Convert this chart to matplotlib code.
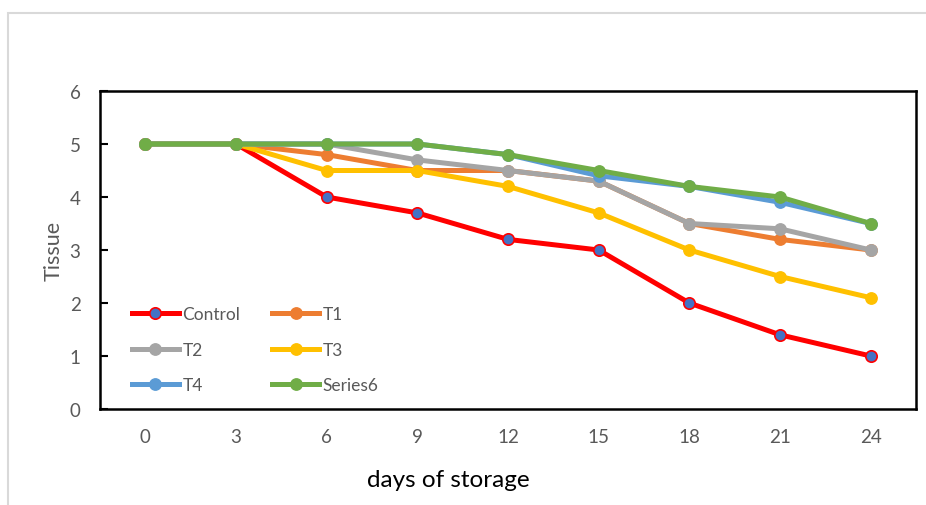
import matplotlib.pyplot as plt
from matplotlib.patches import Rectangle

plt.rcParams['font.family'] = ['Lato', 'DejaVu Sans']

days = [0, 3, 6, 9, 12, 15, 18, 21, 24]
control = [5, 5, 4.0, 3.7, 3.2, 3.0, 2.0, 1.4, 1.0]
t1 = [5, 5, 4.8, 4.5, 4.5, 4.3, 3.5, 3.2, 3.0]
t2 = [5, 5, 5.0, 4.7, 4.5, 4.3, 3.5, 3.4, 3.0]
t3 = [5, 5, 4.5, 4.5, 4.2, 3.7, 3.0, 2.5, 2.1]
t4 = [5, 5, 5.0, 5.0, 4.8, 4.4, 4.2, 3.9, 3.5]
series6 = [5, 5, 5.0, 5.0, 4.8, 4.5, 4.2, 4.0, 3.5]

fig = plt.figure(figsize=(9.26, 5.06), dpi=100)
# light grey chart border like excel
fig.patches.append(Rectangle((8 / 926, -0.01), 1.0, 1 - 14 / 506 + 0.01,
                             transform=fig.transFigure, fill=False,
                             edgecolor='#d9d9d9', linewidth=1.5))

ax = fig.add_axes([100 / 926, 1 - 410 / 506, 816 / 926, 318 / 506])

lw = 3.6
ms = 8.2
h_c, = ax.plot(days, control, color='#ff0000', lw=lw, marker='o', ms=ms,
               markerfacecolor='#4472c4', markeredgecolor='#ff0000', mew=1.2,
               label='Control')
h_1, = ax.plot(days, t1, color='#ed7d31', lw=lw, marker='o', ms=ms, label='T1')
h_2, = ax.plot(days, t2, color='#a5a5a5', lw=lw, marker='o', ms=ms, label='T2')
h_3, = ax.plot(days, t3, color='#ffc000', lw=lw, marker='o', ms=ms, label='T3')
h_4, = ax.plot(days, t4, color='#5b9bd5', lw=lw, marker='o', ms=ms, label='T4')
h_6, = ax.plot(days, series6, color='#70ad47', lw=lw, marker='o', ms=ms,
               label='Series6')

ax.set_xlim(-1.5, 25.5)
ax.set_ylim(0, 6)
ax.set_xticks(days)
ax.set_yticks(range(0, 7))
ax.tick_params(axis='x', length=0, labelsize=13.5, labelcolor='#595959', pad=14)
ax.tick_params(axis='y', direction='in', length=6, width=1.5,
               labelsize=13.5, labelcolor='#595959', pad=14)
for s in ax.spines.values():
    s.set_linewidth(1.8)
    s.set_color('black')

ax.set_ylabel('Tissue', fontsize=15.5, color='#595959')
ax.yaxis.set_label_coords(-0.045, 0.5)
ax.set_xlabel('days of storage', fontsize=17.5, color='black')
ax.xaxis.set_label_coords(0.4265, -0.19)

ax.legend([h_c, h_2, h_4, h_1, h_3, h_6],
          ['Control', 'T2', 'T4', 'T1', 'T3', 'Series6'],
          ncol=2, loc='lower left', bbox_to_anchor=(0.02, 0.0),
          frameon=False, fontsize=12.5, labelcolor='#595959',
          handlelength=2.7, handletextpad=0.2, labelspacing=1.12,
          columnspacing=1.85)

fig.savefig('out.png', dpi=100)
